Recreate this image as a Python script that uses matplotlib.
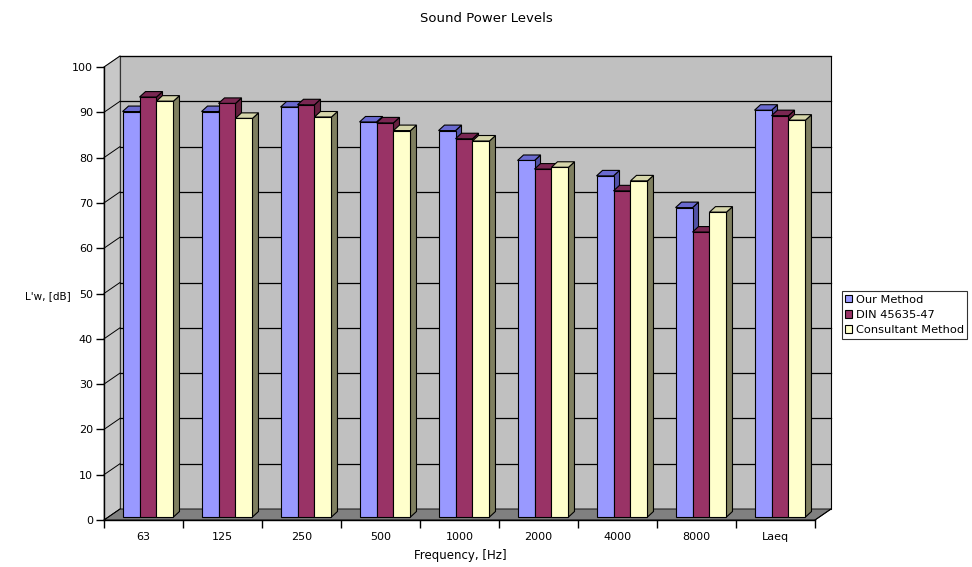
import matplotlib
matplotlib.use("Agg")
import matplotlib.pyplot as plt
import matplotlib.transforms as mtransforms
from matplotlib.patches import Polygon, Rectangle, Patch
import numpy as np

categories = ["63", "125", "250", "500", "1000", "2000", "4000", "8000", "Laeq"]
our_method = [89.5, 89.5, 90.5, 87.2, 85.3, 78.7, 75.3, 68.3, 89.8]
din_45635 = [92.7, 91.3, 91.0, 87.0, 83.5, 76.8, 72.0, 62.9, 88.6]
consultant = [91.8, 88.0, 88.3, 85.3, 83.0, 77.2, 74.2, 67.3, 87.6]
series_names = ["Our Method", "DIN 45635-47", "Consultant Method"]
series_values = [our_method, din_45635, consultant]
front_colors = ["#9999ff", "#993366", "#ffffcc"]
top_colors = ["#6a6ad0", "#7a2752", "#d6d6aa"]
side_colors = ["#5252a8", "#66203f", "#7f7f60"]

W, H, DPI = 972, 567, 100
fig = plt.figure(figsize=(W / DPI, H / DPI), dpi=DPI)
fig.patch.set_facecolor("white")

ax_l, ax_r, ax_top, ax_bot = 104, 815, 67, 520
ax = fig.add_axes([ax_l / W, (H - ax_bot) / H, (ax_r - ax_l) / W, (ax_bot - ax_top) / H])
ax.set_facecolor("none")
ncat = len(categories)
ax.set_xlim(-0.5, ncat - 0.5)
ax.set_ylim(0, 100)

px_x = ncat / (ax_r - ax_l)
px_y = 100 / (ax_bot - ax_top)

wdx, wdy = 16, 11
dxa = wdx / (ax_r - ax_l)
dya = wdy / (ax_bot - ax_top)

ax.add_patch(Rectangle((dxa, dya), 1, 1, transform=ax.transAxes, facecolor="#c0c0c0",
                       edgecolor="black", linewidth=0.8, zorder=0.1, clip_on=False))
ax.add_patch(Polygon([(0, 0), (dxa, dya), (dxa, 1 + dya), (0, 1)], closed=True,
                     transform=ax.transAxes, facecolor="#c8c8c8", edgecolor="#808080",
                     linewidth=0.6, zorder=0.15, clip_on=False))
ax.add_patch(Polygon([(0, 0), (1, 0), (1 + dxa, dya), (dxa, dya)], closed=True,
                     transform=ax.transAxes, facecolor="#808080", edgecolor="black",
                     linewidth=0.6, zorder=0.2, clip_on=False))
yt = np.arange(0, 101, 10)
for v in yt:
    f = v / 100
    if v > 0:
        ax.plot([dxa, 1 + dxa], [f + dya, f + dya], transform=ax.transAxes, color="black",
                linewidth=0.9, zorder=0.3, clip_on=False)
    ax.plot([0, dxa], [f, f + dya], transform=ax.transAxes, color="black",
            linewidth=0.7, zorder=0.3, clip_on=False)

bw = 0.215
x = np.arange(ncat)
ddx = 6 * px_x
ddy = 5.5 * px_y
bar_shift = mtransforms.ScaledTranslation(4.5 / DPI, 3 / DPI, fig.dpi_scale_trans)
tr = ax.transData + bar_shift
for j in range(ncat):
    for i in range(len(series_values)):
        v = series_values[i][j]
        xc = x[j] + (i - 1) * bw
        xl, xr = xc - bw / 2, xc + bw / 2
        z = 2 + (j * 3 + i) * 0.01
        ax.add_patch(Polygon([(xr, 0), (xr + ddx, ddy), (xr + ddx, v + ddy), (xr, v)],
                             closed=True, facecolor=side_colors[i], edgecolor="black",
                             linewidth=0.8, transform=tr, zorder=z, clip_on=False))
        ax.add_patch(Polygon([(xl, v), (xl + ddx, v + ddy), (xr + ddx, v + ddy), (xr, v)],
                             closed=True, facecolor=top_colors[i], edgecolor="black",
                             linewidth=0.8, transform=tr, zorder=z, clip_on=False))
        ax.bar([xc], [v], width=bw, color=front_colors[i], edgecolor="black",
               linewidth=0.8, transform=tr, zorder=z + 0.005, clip_on=False)

for s in ["top", "right"]:
    ax.spines[s].set_visible(False)
ax.spines["left"].set_linewidth(1.0)
ax.spines["bottom"].set_linewidth(1.0)
ax.spines["left"].set_zorder(4)
ax.spines["bottom"].set_zorder(4)
ax.plot([1, 1 + dxa], [0, dya], transform=ax.transAxes, color="black", linewidth=0.8,
        zorder=0.4, clip_on=False)

ax.set_yticks(yt)
ax.set_yticklabels([str(v) for v in yt], fontsize=8)
ax.tick_params(axis="y", length=6, width=1, pad=2)
ax.set_xticks(x)
ax.set_xticklabels(categories, fontsize=8)
ax.set_xticks(np.arange(-0.5, ncat), minor=True)
ax.tick_params(axis="x", which="major", length=0, pad=9)
ax.tick_params(axis="x", which="minor", length=6, width=1)

fig.text(486 / W, 1 - 18 / H, "Sound Power Levels", ha="center", va="center", fontsize=9.5)
fig.text(48 / W, 1 - 296 / H, "L'w, [dB]", ha="center", va="center", fontsize=7.5)
fig.text(460 / W, 1 - 556 / H, "Frequency, [Hz]", ha="center", va="center", fontsize=8.5)

handles = [Patch(facecolor=c, edgecolor="black", linewidth=0.8) for c in front_colors]
leg = fig.legend(handles, series_names, loc="center left",
                 bbox_to_anchor=(842 / W, 1 - 315 / H), fontsize=8.2, frameon=True,
                 fancybox=False, edgecolor="black", handlelength=0.6, handleheight=0.6,
                 handletextpad=0.3, borderpad=0.3, labelspacing=0.45, borderaxespad=0)
leg.get_frame().set_linewidth(0.8)

fig.savefig("out.png", dpi=DPI)
